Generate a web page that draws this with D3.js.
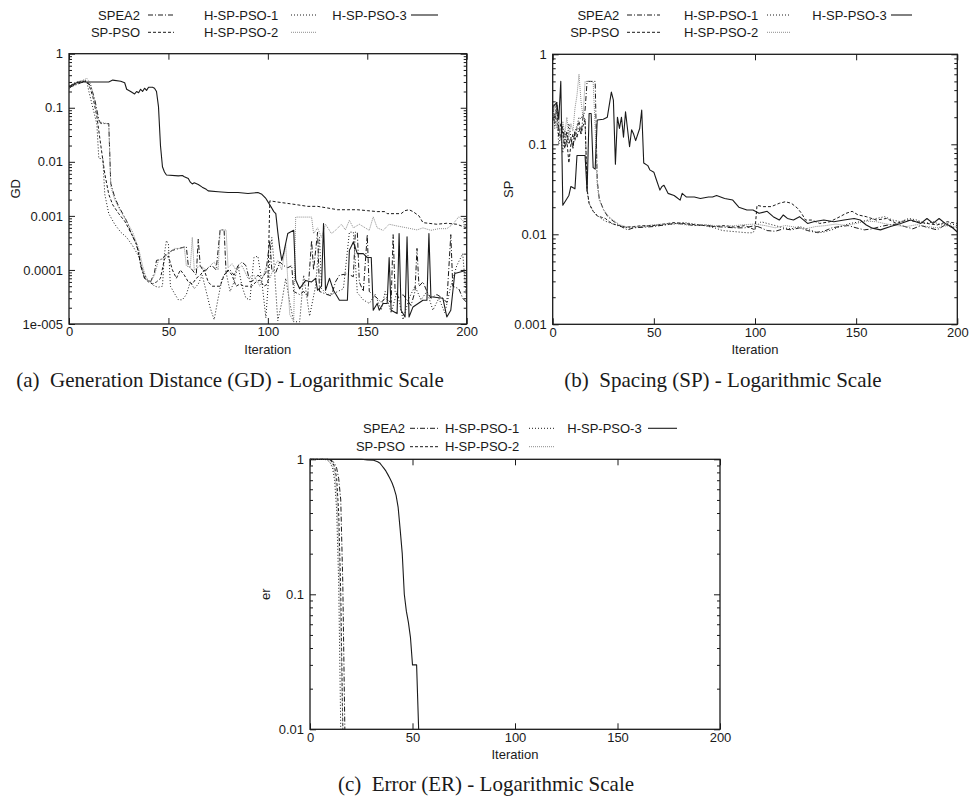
<!DOCTYPE html>
<html>
<head>
<meta charset="utf-8">
<script src="https://cdn.jsdelivr.net/npm/d3@7"></script>
<style>
  body { margin: 0; background: #fff; }
  svg { display: block; }
  .lbl { font-family: "Liberation Sans", Arial, Helvetica, sans-serif; font-size: 13px; fill: #1a1a1a; }
  .cap { font-family: "Liberation Serif", "Times New Roman", serif; font-size: 21px; fill: #1a1a1a; white-space: pre; }
</style>
</head>
<body>
<svg id="fig" width="969" height="797"></svg>
<script>
// ---- Series and axis data ----
const seriesNames = ["SPEA2", "SP-PSO", "H-SP-PSO-1", "H-SP-PSO-2", "H-SP-PSO-3"];
const xTicks = [0, 50, 100, 150, 200];

const gdTicks = [1e-5, 1e-4, 1e-3, 1e-2, 1e-1, 1];
const gdTickLabels = ["1e-005", "0.0001", "0.001", "0.01", "0.1", "1"];
const spTicks = [1e-3, 1e-2, 1e-1, 1];
const spTickLabels = ["0.001", "0.01", "0.1", "1"];
const erTicks = [1e-2, 1e-1, 1];
const erTickLabels = ["0.01", "0.1", "1"];

// Generation Distance [iteration, GD]
const gdSPEA2 = [[0,0.24],[3,0.26],[6,0.29],[9,0.31],[11,0.25],[13,0.14],[15,0.06],[16,0.051],[20,0.051],[21,0.004],[23,0.0022],[25,0.0015],[27,0.0011],[29,0.0008],[31,0.0005],[33,0.00035],[35,0.00022],[36,0.00012],[38,7e-5],[41,6e-5],[43,9e-5],[44,1.5e-4],[47,1.6e-4],[49,2e-4],[52,2.3e-4],[57,2.6e-4],[59,2.7e-4],[60,1.2e-4],[62,1e-4],[64,8e-5],[65,3.7e-4],[66,1.2e-4],[68,9e-5],[70,1.1e-4],[72,1.2e-4],[74,1e-4],[76,5.5e-4],[78,5.5e-4],[79,9e-5],[81,1e-4],[83,8e-5],[85,1.2e-4],[87,1.4e-4],[89,1.2e-4],[91,6e-5],[93,6.5e-5],[95,8e-5],[97,7e-5],[99,9e-5],[101,3.5e-4],[102,1e-4],[104,9e-5],[106,1.4e-4],[108,1.2e-4],[110,1.1e-4],[112,1.2e-4],[113,4e-5],[116,3.5e-5],[118,4e-5],[120,3.2e-5],[122,3.5e-4],[123,1e-4],[125,5e-4],[126,4e-5],[129,3.6e-5],[132,3.3e-5],[134,6e-5],[136,8e-5],[140,8.5e-5],[143,7.5e-5],[144,5e-4],[145,5e-4],[146,6e-5],[148,4e-5],[150,4.5e-4],[151,4e-5],[155,3e-5],[157,2.5e-5],[159,3e-5],[162,2.5e-5],[163,4.5e-4],[164,4e-5],[166,3e-5],[168,3.5e-5],[172,2.2e-5],[174,4e-5],[175,2.5e-4],[176,5e-5],[178,6e-5],[180,4e-5],[182,3e-5],[185,3.5e-5],[188,3e-5],[190,2.5e-5],[192,4.5e-4],[193,5e-5],[196,4.5e-5],[198,3e-5],[200,2.5e-5]];
const gdSPPSO = [[0,0.23],[3,0.27],[6,0.3],[8,0.31],[10,0.27],[12,0.16],[14,0.07],[16,0.02],[18,0.006],[20,0.0025],[22,0.0016],[25,0.0011],[28,0.0008],[31,0.0005],[34,0.0003],[36,1.3e-4],[38,7e-5],[40,6e-5],[42,5.5e-5],[44,6e-5],[46,7e-5],[48,1.6e-4],[50,1.8e-4],[52,1e-4],[54,7e-5],[56,1e-4],[58,8e-5],[60,6e-5],[62,5.5e-5],[64,7e-5],[66,8e-5],[68,1e-4],[70,6e-5],[72,5e-5],[74,5e-5],[76,5e-5],[78,8e-5],[80,1e-4],[82,8e-5],[84,5e-5],[86,5.5e-5],[88,5e-5],[90,5e-5],[92,5e-5],[94,6e-5],[96,6.5e-5],[98,5e-5],[100,5.5e-5],[101,0.0019],[105,0.0018],[110,0.0017],[115,0.0016],[120,0.0015],[125,0.0015],[130,0.0014],[135,0.0013],[140,0.0013],[145,0.0013],[150,0.00125],[155,0.0012],[159,0.0012],[160,0.0011],[167,0.0011],[169,0.00125],[171,0.0013],[173,0.0012],[176,0.001],[178,0.00075],[185,0.0007],[190,0.00073],[195,0.0007],[200,0.0006]];
const gdH1 = [[0,0.25],[2,0.28],[4,0.3],[6,0.31],[8,0.33],[9,0.3],[10,0.2],[12,0.1],[14,0.05],[15,0.0115],[17,0.0115],[18,0.0025],[20,0.0011],[23,0.0007],[26,0.0005],[29,0.0004],[32,0.00028],[35,0.00018],[37,1e-4],[39,7e-5],[41,6e-5],[43,5e-5],[45,4.8e-5],[47,5e-5],[48,2e-4],[49,3.5e-4],[50,3e-4],[51,5e-5],[53,3.7e-5],[55,2.8e-5],[57,2.8e-5],[59,3.5e-5],[61,6e-5],[63,4.5e-5],[65,5.5e-5],[67,8e-5],[69,4e-5],[71,2e-5],[73,1.2e-5],[75,3e-5],[77,7e-5],[79,9e-5],[81,4e-5],[83,6e-5],[85,1.2e-4],[87,5e-5],[89,3e-5],[91,2.8e-5],[93,1.7e-4],[95,1.8e-4],[97,6e-5],[99,1.3e-5],[101,1.5e-4],[102,4e-4],[103,1.5e-4],[105,1.15e-5],[107,2.5e-5],[109,7e-5],[111,2.5e-5],[113,1.1e-5],[116,1.1e-5],[118,8e-5],[121,1.4e-5],[124,5e-5],[126,4e-4],[127,4.5e-5],[130,3.5e-5],[134,3.8e-5],[138,4.5e-5],[141,5e-4],[143,5e-4],[145,3.8e-5],[148,2.8e-5],[151,2.4e-5],[154,3.5e-5],[157,1.8e-5],[159,4e-5],[162,1.6e-5],[165,4e-5],[168,1.2e-5],[171,3e-5],[174,5e-5],[177,2.8e-5],[180,4e-5],[183,1.8e-5],[186,3e-5],[189,1.6e-5],[192,5e-5],[195,1.2e-4],[198,2e-4],[200,2.7e-5]];
const gdH2 = [[0,0.24],[2,0.27],[4,0.3],[7,0.32],[9,0.35],[11,0.27],[13,0.12],[15,0.055],[20,0.05],[21,0.0035],[23,0.002],[26,0.0012],[29,0.0008],[32,0.0005],[35,0.00025],[37,1.2e-4],[39,6.5e-5],[41,6e-5],[43,8e-5],[45,1.5e-4],[47,1.6e-4],[50,2e-4],[53,2.5e-4],[56,2.5e-4],[58,2.6e-4],[59,1.2e-4],[61,1.1e-4],[62,4e-4],[63,1e-4],[66,1.2e-4],[69,1e-4],[71,1.2e-4],[73,1.4e-4],[75,1e-4],[76,5.5e-4],[79,5.5e-4],[80,1.1e-4],[82,1.3e-4],[84,1e-4],[87,1.2e-4],[90,7e-5],[93,8e-5],[96,5e-5],[99,1.1e-4],[101,7e-5],[103,1.1e-4],[105,1.5e-4],[107,1e-4],[109,3e-4],[111,1.5e-5],[113,1.1e-5],[114,9.5e-4],[122,9.5e-4],[123,4.7e-4],[125,6e-4],[127,4e-4],[129,7e-4],[132,4.7e-4],[134,5.4e-4],[137,7e-4],[139,5.5e-4],[141,8.3e-4],[143,6e-4],[146,7e-4],[149,6e-4],[151,5.4e-4],[153,9.6e-4],[155,6e-4],[158,5.4e-4],[161,7e-4],[165,6.5e-4],[170,6e-4],[175,5.5e-4],[178,6e-4],[182,5.4e-4],[186,5.8e-4],[190,5.8e-4],[193,7e-4],[196,9.6e-4],[198,8.3e-4],[200,5.4e-4]];
const gdH3 = [[0,0.245],[3,0.28],[5,0.3],[10,0.3],[20,0.3],[22,0.325],[26,0.31],[28,0.29],[29,0.22],[31,0.2],[33,0.18],[34,0.2],[35,0.19],[36,0.22],[37,0.2],[38,0.23],[39,0.21],[40,0.24],[42,0.24],[43,0.23],[44,0.2],[45,0.105],[46,0.02],[47,0.0081],[48,0.0065],[49,0.0057],[55,0.0055],[57,0.0056],[58,0.0053],[60,0.0049],[61,0.0042],[62,0.0039],[63,0.0041],[65,0.0038],[67,0.0034],[69,0.0031],[70,0.0029],[75,0.0028],[80,0.0027],[85,0.0027],[90,0.0026],[95,0.0027],[97,0.0025],[99,0.0021],[101,0.0016],[103,0.0012],[104,0.0011],[105,0.0005],[106,0.00025],[107,0.00015],[108,0.00021],[110,0.00047],[113,0.00054],[114,6.5e-5],[116,4.5e-5],[119,6.4e-5],[122,6e-5],[124,7e-5],[125,4.2e-5],[127,5e-5],[128,7.2e-4],[129,4.2e-5],[131,7e-5],[133,4.2e-5],[136,2.75e-5],[140,2.75e-5],[141,2.3e-4],[143,3.3e-4],[145,2e-4],[148,2e-4],[150,1.7e-4],[152,1.7e-4],[153,1.8e-5],[155,2.4e-5],[156,1.8e-5],[158,2.4e-5],[160,2.4e-5],[161,1.7e-4],[162,1.8e-5],[165,1.56e-5],[166,4.7e-4],[167,1.8e-5],[169,1.35e-5],[170,4.1e-4],[171,1.35e-5],[173,2.07e-5],[178,2.75e-5],[180,2.75e-5],[181,4.7e-4],[182,3.2e-5],[188,3e-5],[190,1.35e-5],[192,1.8e-5],[194,8.6e-5],[200,9.9e-5]];

// Spacing [iteration, SP]
const spSPEA2 = [[0,0.26],[1,0.2],[2,0.3],[3,0.15],[4,0.12],[5,0.16],[6,0.1],[7,0.14],[8,0.1],[9,0.12],[10,0.09],[11,0.14],[12,0.12],[13,0.15],[14,0.13],[15,0.2],[16,0.24],[17,0.5],[21,0.5],[22,0.04],[23,0.025],[25,0.019],[27,0.016],[29,0.0145],[31,0.0135],[33,0.0125],[35,0.0118],[37,0.0112],[40,0.0118],[45,0.012],[50,0.0122],[55,0.0127],[60,0.0132],[65,0.013],[70,0.0125],[75,0.0127],[80,0.0122],[85,0.012],[90,0.0118],[95,0.0118],[100,0.0125],[103,0.0118],[106,0.011],[110,0.0108],[114,0.0115],[118,0.0112],[122,0.0118],[126,0.011],[130,0.0105],[134,0.0108],[138,0.0118],[142,0.0122],[146,0.0125],[150,0.0118],[154,0.0112],[158,0.0115],[162,0.0122],[166,0.0127],[170,0.013],[174,0.0122],[178,0.0115],[182,0.0125],[186,0.0118],[190,0.0112],[194,0.0127],[198,0.0118],[200,0.012]];
const spSPPSO = [[0,0.22],[1,0.17],[2,0.25],[3,0.12],[4,0.17],[5,0.13],[6,0.09],[7,0.11],[8,0.062],[9,0.1],[10,0.13],[11,0.11],[12,0.15],[13,0.18],[14,0.13],[15,0.16],[16,0.19],[17,0.032],[18,0.022],[20,0.018],[22,0.016],[24,0.0155],[26,0.015],[28,0.0138],[30,0.013],[33,0.0125],[36,0.012],[40,0.0122],[45,0.0125],[50,0.0125],[55,0.013],[60,0.0135],[65,0.0132],[70,0.0128],[75,0.0125],[80,0.0122],[85,0.0125],[90,0.012],[95,0.0125],[100,0.0112],[101,0.021],[104,0.0203],[108,0.0203],[112,0.0221],[115,0.023],[118,0.0221],[121,0.0195],[123,0.0171],[125,0.0144],[128,0.0144],[132,0.0132],[137,0.0138],[142,0.0157],[145,0.0171],[148,0.018],[151,0.0164],[155,0.0157],[160,0.0144],[165,0.015],[170,0.0132],[175,0.0144],[180,0.0138],[185,0.0132],[190,0.0127],[195,0.0138],[200,0.0132]];
const spH1 = [[0,0.3],[1,0.15],[2,0.2],[3,0.1],[4,0.13],[5,0.08],[6,0.14],[7,0.1],[8,0.17],[9,0.12],[10,0.09],[11,0.14],[12,0.16],[13,0.2],[14,0.19],[15,0.22],[16,0.18],[17,0.03],[18,0.022],[20,0.018],[23,0.0155],[26,0.014],[29,0.0132],[32,0.0125],[35,0.012],[38,0.0118],[42,0.012],[46,0.0122],[50,0.0125],[55,0.0127],[60,0.013],[65,0.0135],[70,0.013],[75,0.0125],[80,0.0118],[84,0.011],[88,0.0108],[92,0.0106],[96,0.0104],[99,0.0104],[101,0.0125],[103,0.0138],[106,0.0132],[110,0.0125],[114,0.0118],[118,0.0115],[122,0.0122],[127,0.0112],[131,0.0104],[134,0.0106],[138,0.0112],[142,0.0122],[147,0.0132],[152,0.0138],[156,0.0144],[160,0.015],[164,0.0157],[168,0.0144],[172,0.0138],[176,0.015],[180,0.0144],[184,0.0132],[188,0.0138],[192,0.0127],[196,0.0132],[200,0.0125]];
const spH2 = [[0,0.2],[1,0.28],[2,0.15],[3,0.22],[4,0.11],[5,0.18],[6,0.13],[7,0.2],[8,0.12],[9,0.17],[10,0.14],[11,0.25],[12,0.35],[13,0.6],[14,0.3],[15,0.2],[16,0.5],[20,0.5],[21,0.15],[22,0.035],[23,0.024],[25,0.019],[27,0.0165],[29,0.0148],[31,0.0138],[33,0.0128],[36,0.0122],[40,0.012],[45,0.0123],[50,0.0128],[55,0.013],[60,0.0133],[65,0.0128],[70,0.0125],[75,0.0128],[80,0.0125],[85,0.0122],[90,0.0125],[95,0.0128],[100,0.013],[105,0.0125],[110,0.0118],[115,0.0125],[120,0.012],[125,0.0115],[130,0.0122],[135,0.0125],[140,0.013],[145,0.0125],[150,0.0132],[155,0.014],[160,0.0138],[165,0.013],[170,0.0125],[175,0.0122],[180,0.0128],[185,0.0122],[190,0.0118],[195,0.0125],[200,0.012]];
const spH3 = [[0,0.26],[2,0.29],[3,0.19],[4,0.5],[5,0.021],[8,0.027],[9,0.034],[11,0.032],[12,0.075],[16,0.075],[17,0.03],[18,0.22],[19,0.22],[20,0.055],[21,0.053],[22,0.186],[25,0.19],[27,0.2],[29,0.38],[30,0.31],[31,0.06],[32,0.2],[33,0.15],[34,0.2],[35,0.12],[36,0.23],[38,0.094],[39,0.145],[40,0.13],[41,0.11],[43,0.15],[44,0.24],[45,0.062],[47,0.058],[48,0.052],[50,0.049],[51,0.042],[53,0.031],[54,0.034],[55,0.035],[57,0.0285],[60,0.027],[61,0.026],[63,0.024],[64,0.0285],[66,0.026],[70,0.026],[73,0.025],[77,0.026],[79,0.026],[81,0.027],[85,0.025],[89,0.024],[92,0.02],[96,0.0186],[99,0.0186],[102,0.0171],[106,0.018],[109,0.0157],[112,0.0144],[114,0.0164],[116,0.015],[119,0.0144],[122,0.0157],[126,0.0132],[129,0.0138],[134,0.0144],[139,0.0138],[144,0.0144],[149,0.015],[152,0.0144],[155,0.0127],[158,0.0117],[162,0.0112],[167,0.0122],[172,0.0132],[177,0.0144],[182,0.0132],[185,0.015],[188,0.0132],[191,0.015],[194,0.0132],[197,0.0122],[200,0.0106]];

// Error ratio [iteration, er]
const erSPEA2 = [[0,1],[9,1],[10,0.99],[11,0.97],[12,0.93],[13,0.86],[14,0.72],[15,0.5],[16,0.12],[17,0.01]];
const erSPPSO = [[0,1],[9,1],[10,0.98],[11,0.95],[12,0.88],[13,0.72],[14,0.4],[15,0.1],[16,0.01]];
const erH1 = [[0,1],[7,1],[8,0.99],[9,0.97],[10,0.93],[11,0.86],[12,0.7],[13,0.42],[14,0.12],[15,0.01]];
const erH2 = [[0,1],[8,1],[9,0.985],[10,0.96],[11,0.91],[12,0.8],[13,0.58],[14,0.25],[15,0.06],[16,0.01]];
const erH3 = [[0,1],[25,1],[28,0.99],[31,0.985],[33,0.96],[34,0.94],[35,0.9],[36,0.86],[37,0.82],[38,0.77],[39,0.72],[40,0.67],[41,0.61],[42,0.54],[43,0.44],[44,0.3],[45,0.2],[46,0.1],[47,0.075],[48,0.062],[49,0.048],[50,0.03],[52,0.03],[53,0.01]];

// ---- Line styles, one per algorithm ----
const styles = [
  { stroke: "#1a1a1a", dash: "5,2,1,2", width: 1 },
  { stroke: "#1a1a1a", dash: "3,2", width: 1 },
  { stroke: "#1a1a1a", dash: "1,2", width: 1 },
  { stroke: "#8c8c8c", dash: "1,1", width: 1 },
  { stroke: "#1a1a1a", dash: null, width: 1.1 }
];

const panels = [
  {
    id: "gd", left: 69, right: 466.7, top: 53.7, bottom: 324,
    yDomain: [1e-5, 1], ticks: gdTicks, tickLabels: gdTickLabels,
    yLabel: "GD", yLabelX: 15,
    series: [gdSPEA2, gdSPPSO, gdH1, gdH2, gdH3],
    legendRows: [15, 32.3],
    legendCols: [{ te: 140, s0: 148, s1: 174 }, { te: 278.3, s0: 291, s1: 317 }, { te: 406.7, s0: 411, s1: 438 }],
    caption: "(a)\u2002Generation Distance (GD) - Logarithmic Scale", capX: 230, capY: 387
  },
  {
    id: "sp", left: 552.7, right: 957.3, top: 54.3, bottom: 324.3,
    yDomain: [1e-3, 1], ticks: spTicks, tickLabels: spTickLabels,
    yLabel: "SP", yLabelX: 508,
    series: [spSPEA2, spSPPSO, spH1, spH2, spH3],
    legendRows: [15, 32.3],
    legendCols: [{ te: 619.3, s0: 627, s1: 660 }, { te: 758.3, s0: 767, s1: 790 }, { te: 886.7, s0: 891, s1: 912 }],
    caption: "(b)\u2002Spacing (SP) - Logarithmic Scale", capX: 723, capY: 387
  },
  {
    id: "er", left: 310, right: 720, top: 459.3, bottom: 729.3,
    yDomain: [1e-2, 1], ticks: erTicks, tickLabels: erTickLabels,
    yLabel: "er", yLabelX: 265,
    series: [erSPEA2, erSPPSO, erH1, erH2, erH3],
    legendRows: [428.3, 446.7],
    legendCols: [{ te: 405, s0: 410, s1: 440 }, { te: 519.3, s0: 529, s1: 555 }, { te: 641.7, s0: 648, s1: 677 }],
    caption: "(c)\u2002Error (ER) - Logarithmic Scale", capX: 486, capY: 791
  }
];
// legend slot (column, row) for each algorithm
const legendSlots = [[0, 0], [0, 1], [1, 0], [1, 1], [2, 0]];

const svg = d3.select("#fig");
const ink = "#1a1a1a";

function styleAxis(sel) {
  sel.select(".domain").remove();
  sel.attr("font-size", 13)
     .attr("font-family", "'Liberation Sans', Arial, Helvetica, sans-serif")
     .attr("color", ink);
  sel.selectAll(".tick line").attr("stroke-width", 1);
}

panels.forEach(p => {
  const g = svg.append("g").attr("class", "panel-" + p.id);
  const x = d3.scaleLinear().domain([0, 200]).range([p.left, p.right]);
  const y = d3.scaleLog().domain(p.yDomain).range([p.bottom, p.top]);

  const lo = Math.round(Math.log10(p.yDomain[0]));
  const hi = Math.round(Math.log10(p.yDomain[1]));
  const minor = [];
  for (let e = lo; e < hi; e++) for (let k = 2; k <= 9; k++) minor.push(k * Math.pow(10, e));

  // Major and minor ticks on all four sides, pointing inward
  g.append("g").attr("transform", `translate(${p.left},0)`)
    .call(d3.axisLeft(y).tickValues(p.ticks).tickFormat((d, i) => p.tickLabels[i]).tickSize(-6).tickSizeOuter(0).tickPadding(6))
    .call(styleAxis);
  g.append("g").attr("transform", `translate(${p.left},0)`)
    .call(d3.axisLeft(y).tickValues(minor).tickFormat("").tickSize(-3).tickSizeOuter(0))
    .call(styleAxis);
  g.append("g").attr("transform", `translate(${p.right},0)`)
    .call(d3.axisRight(y).tickValues(p.ticks).tickFormat("").tickSize(-6).tickSizeOuter(0))
    .call(styleAxis);
  g.append("g").attr("transform", `translate(${p.right},0)`)
    .call(d3.axisRight(y).tickValues(minor).tickFormat("").tickSize(-3).tickSizeOuter(0))
    .call(styleAxis);
  g.append("g").attr("transform", `translate(0,${p.bottom})`)
    .call(d3.axisBottom(x).tickValues(xTicks).tickFormat(d3.format("d")).tickSize(-6).tickSizeOuter(0).tickPadding(3))
    .call(styleAxis);
  g.append("g").attr("transform", `translate(0,${p.top})`)
    .call(d3.axisTop(x).tickValues(xTicks).tickFormat("").tickSize(-6).tickSizeOuter(0))
    .call(styleAxis);

  // Plot frame
  g.append("rect")
    .attr("x", p.left).attr("y", p.top)
    .attr("width", p.right - p.left).attr("height", p.bottom - p.top)
    .attr("fill", "none").attr("stroke", ink).attr("stroke-width", 1.3);

  // Data lines
  const clipId = "clip-" + p.id;
  svg.append("clipPath").attr("id", clipId).append("rect")
    .attr("x", p.left).attr("y", p.top - 1)
    .attr("width", p.right - p.left).attr("height", p.bottom - p.top + 2);
  const line = d3.line().x(d => x(d[0])).y(d => y(d[1]));
  const lines = g.append("g").attr("clip-path", `url(#${clipId})`);
  p.series.forEach((data, i) => {
    const s = styles[i];
    lines.append("path").datum(data)
      .attr("d", line)
      .attr("fill", "none")
      .attr("stroke", s.stroke)
      .attr("stroke-width", s.width)
      .attr("stroke-dasharray", s.dash)
      .attr("stroke-linejoin", "round");
  });

  // Axis titles
  g.append("text").attr("class", "lbl")
    .attr("x", (p.left + p.right) / 2).attr("y", p.bottom + 29.5)
    .attr("text-anchor", "middle").text("Iteration");
  g.append("text").attr("class", "lbl")
    .attr("transform", `translate(${p.yLabelX},${(p.top + p.bottom) / 2}) rotate(-90)`)
    .attr("text-anchor", "middle").attr("dy", "0.35em").text(p.yLabel);

  // Key
  seriesNames.forEach((name, i) => {
    const [c, r] = legendSlots[i];
    const col = p.legendCols[c];
    const yy = p.legendRows[r];
    const s = styles[i];
    g.append("text").attr("class", "lbl")
      .attr("x", col.te).attr("y", yy).attr("dy", "0.35em")
      .attr("text-anchor", "end").text(name);
    g.append("line")
      .attr("x1", col.s0).attr("x2", col.s1).attr("y1", yy).attr("y2", yy)
      .attr("stroke", s.stroke).attr("stroke-width", s.width)
      .attr("stroke-dasharray", s.dash);
  });

  // Caption
  svg.append("text").attr("class", "cap")
    .attr("x", p.capX).attr("y", p.capY)
    .attr("text-anchor", "middle").text(p.caption);
});
</script>
</body>
</html>
